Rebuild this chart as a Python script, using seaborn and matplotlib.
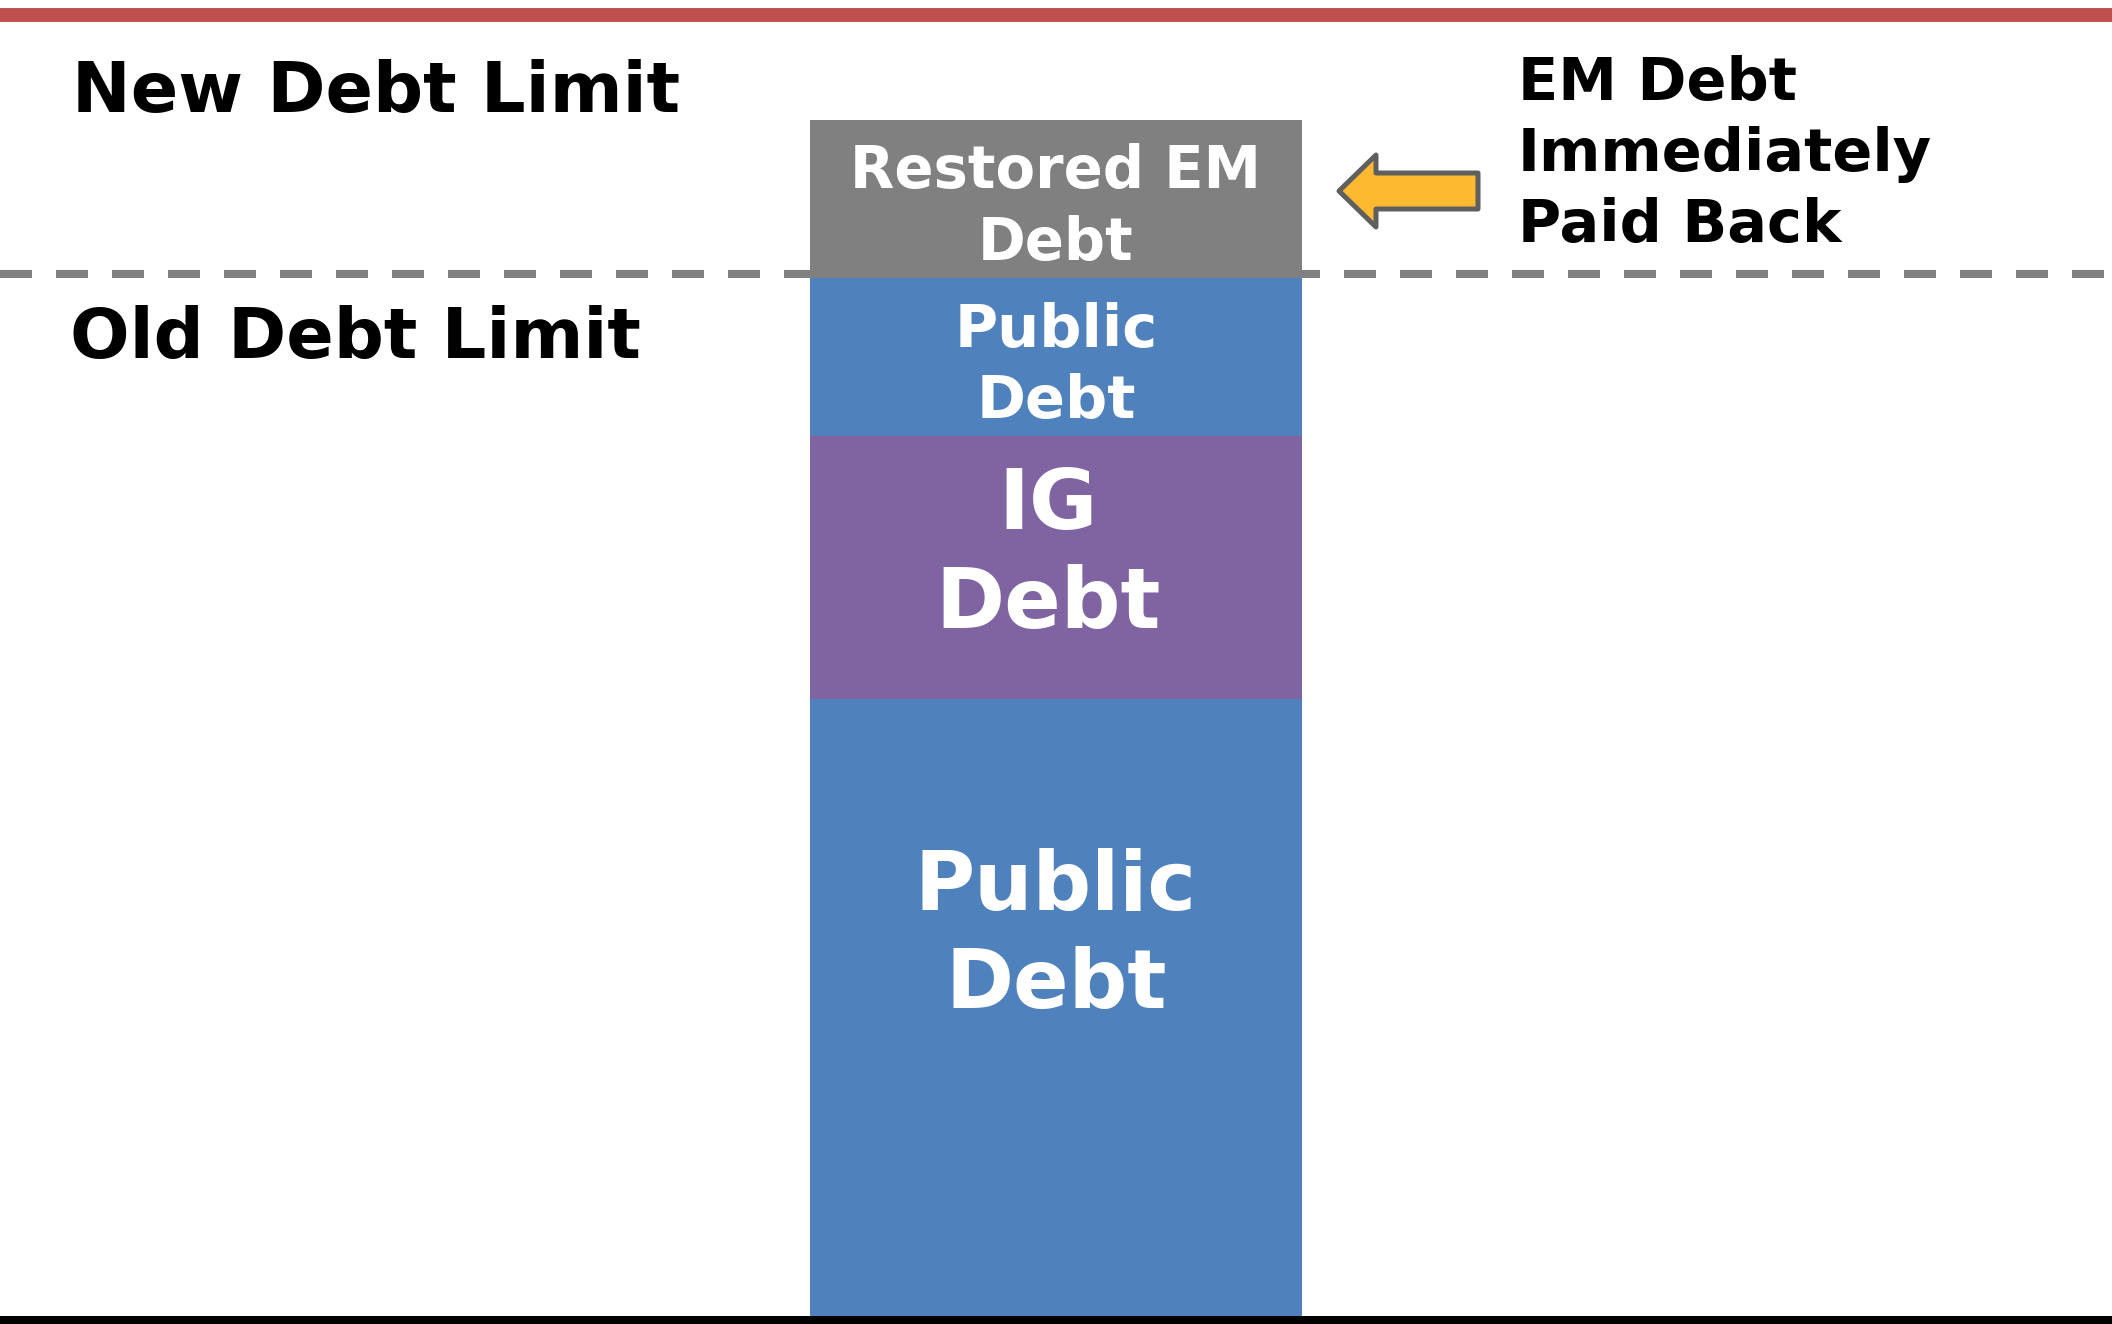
import matplotlib
matplotlib.use("Agg")
import matplotlib.pyplot as plt
from matplotlib.patches import FancyArrow
import seaborn as sns
import pandas as pd

# ---------------- data ----------------
bar_category = ["Debt stack"]
segment_names = ["Public Debt (base)", "IG Debt", "Public Debt (top)", "Restored EM Debt"]
segment_values = [6.21, 2.63, 1.58, 1.58]
segment_labels = ["Public\nDebt", "IG\nDebt", "Public\nDebt", "Restored EM\nDebt"]
segment_colors = ["#4F81BD", "#8064A2", "#4F81BD", "#808080"]
old_debt_limit = 10.46
new_debt_limit = 13.05
limit_labels = ["New Debt Limit", "Old Debt Limit"]
side_note = "EM Debt\nImmediately\nPaid Back"

# ---------------- style ----------------
sns.set_style("white")
plt.rcParams["font.family"] = ["DejaVu Sans"]
plt.rcParams["font.weight"] = "bold"

W, H, DPI = 2112, 1324, 100
fig = plt.figure(figsize=(W / DPI, H / DPI), dpi=DPI)
fig.patch.set_facecolor("white")
ax = fig.add_axes([0, 4 / H, 1, 1320 / H])
ax.set_facecolor("white")

# stacked bar with seaborn
bottom = 0.0
for name, val, col in zip(segment_names, segment_values, segment_colors):
    df = pd.DataFrame({"cat": bar_category, "value": [val]})
    sns.barplot(data=df, x="cat", y="value", bottom=bottom, color=col,
                width=0.8, errorbar=None, saturation=1, ax=ax,
                linewidth=0, zorder=2)
    bottom += val

L = 0.8 * W / (2 * 492)
ax.set_xlim(-L, L)
ax.set_ylim(0, 13.20)

# limit lines
ax.axhline(new_debt_limit, color="#C0504D", lw=10, zorder=1, solid_capstyle="butt")
ax.axhline(old_debt_limit, color="#808080", lw=5.76, zorder=1,
           linestyle=(0, (4.0, 3.0)), dash_capstyle="butt")

# bar segment labels (one text per line, placed by baseline)
label_fs = [59, 60, 42.5, 41.5]
label_step = [0.98, 0.99, 0.71, 0.72]
label_dx = [0.0, -8 * 2 * L / W, 0.0, 0.0]
first_baselines = [4.10, 7.91, 9.73, 11.32]
for lab, fs, step, yb, dx in zip(segment_labels, label_fs, label_step,
                                 first_baselines, label_dx):
    for i, line in enumerate(lab.split("\n")):
        ax.text(dx, yb - i * step, line, ha="center", va="baseline",
                color="white", fontsize=fs, fontweight="bold", zorder=5)

# limit labels
yx = ax.get_yaxis_transform()
ax.text(72 / W, 12.08, limit_labels[0], transform=yx, ha="left", va="baseline",
        fontsize=50.5, fontweight="bold", color="black")
ax.text(70 / W, 9.62, limit_labels[1], transform=yx, ha="left", va="baseline",
        fontsize=50.5, fontweight="bold", color="black")

# side note
for i, line in enumerate(side_note.split("\n")):
    ax.text(1518 / W, 12.20 - i * 0.71, line, transform=yx, ha="left",
            va="baseline", fontsize=42.5, fontweight="bold", color="black")

# arrow (figure inches)
arrow = FancyArrow(14.78, (H - 191) / DPI, -1.39, 0, width=0.36, head_width=0.72,
                   head_length=0.37, length_includes_head=True,
                   facecolor="#FDBA31", edgecolor="#5F5F5F", linewidth=3.6,
                   joinstyle="round", transform=fig.dpi_scale_trans, zorder=6)
fig.add_artist(arrow)

# axes cosmetics
for s in ["top", "left", "right"]:
    ax.spines[s].set_visible(False)
ax.spines["bottom"].set_color("black")
ax.spines["bottom"].set_linewidth(5.76)
ax.spines["bottom"].set_zorder(7)
ax.set_xticks([])
ax.set_yticks([])
ax.set_xlabel("")
ax.set_ylabel("")

fig.savefig("out.png", dpi=DPI, facecolor="white")
